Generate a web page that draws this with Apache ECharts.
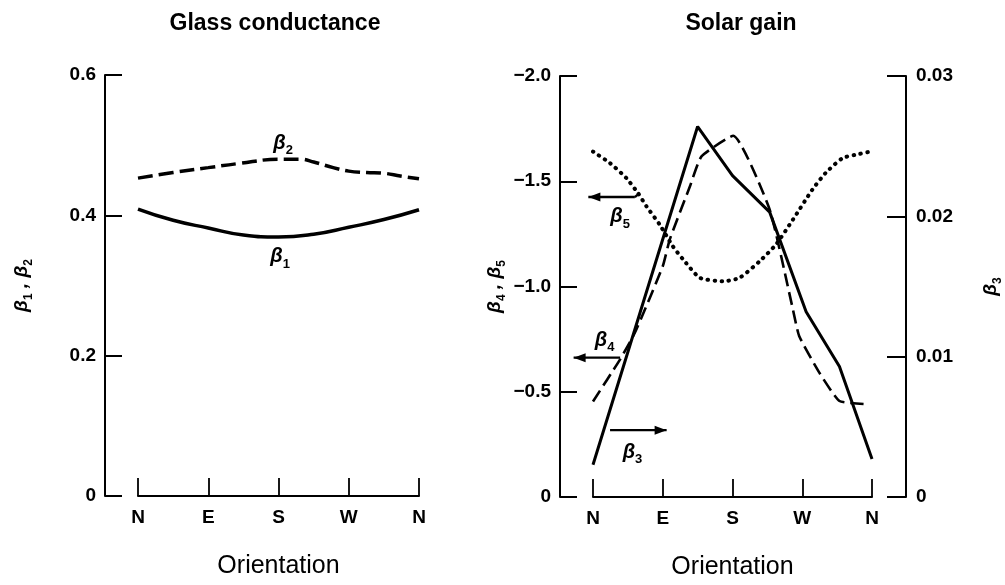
<!DOCTYPE html>
<html><head><meta charset="utf-8">
<script src="https://cdn.jsdelivr.net/npm/echarts@6/dist/echarts.min.js"></script>
<style>html,body{margin:0;padding:0;background:#fff}#c{width:1005px;height:585px}</style>
</head><body><div id="c"></div>
<script>
// ---- data (orientation in degrees: N=0, E=90, S=180, W=270, N=360) ----
const XTICKS = ['N', 'E', 'S', 'W', 'N'];
const GLASS_TICKS = ['0', '0.2', '0.4', '0.6'];
const SOLAR_LEFT_TICKS = ['\u22122.0', '\u22121.5', '\u22121.0', '\u22120.5', '0'];
const SOLAR_RIGHT_TICKS = ['0', '0.01', '0.02', '0.03'];

const B1_X = [0, 45, 90, 135, 180, 225, 270, 315, 360];
const B1   = [0.409, 0.393, 0.382, 0.372, 0.369, 0.373, 0.383, 0.394, 0.408];

const B2_X = [0, 45, 90, 130, 180, 208, 225, 250, 270, 293, 315, 336, 360];
const B2   = [0.453, 0.461, 0.468, 0.474, 0.480, 0.480, 0.476, 0.468, 0.463, 0.461, 0.460, 0.456, 0.452];

const B3_X = [0, 135, 180, 228, 275, 318, 360];
const B3   = [0.0023, 0.0264, 0.0229, 0.0203, 0.0132, 0.0093, 0.0027];

const B4_X = [0, 35, 54, 90, 99, 125, 140, 181, 228, 257, 266, 292, 318, 352];
const B4   = [-0.454, -0.654, -0.78, -1.096, -1.223, -1.475, -1.618, -1.716, -1.365, -0.907, -0.765, -0.591, -0.456, -0.441];

const B5_X = [0, 22, 43, 58, 69, 86, 103, 120, 138, 168, 189, 215, 236, 258, 283, 300, 322, 339, 358];
const B5   = [-1.641, -1.586, -1.515, -1.444, -1.381, -1.294, -1.191, -1.112, -1.041, -1.025, -1.041, -1.120, -1.199, -1.318, -1.460, -1.539, -1.610, -1.626, -1.641];

// annotation anchors in data space [orientation, value]
const LABEL_B1 = [182, 0.341];
const LABEL_B2 = [186, 0.503];
const LABEL_B5 = [35, -1.332];
const LABEL_B4 = [15, -0.744];
const LABEL_B3 = [51, -0.213];
const ARROW_B5 = [[54, -1.425], [-6, -1.425]];
const HOOK_B5  = [[54, -1.425], [60, -1.444]];
const ARROW_B4 = [[35, -0.662], [-25, -0.662]];
const ARROW_B3 = [[22, -0.3175], [95, -0.3175]];

// ---- chart ----
const FONT = "'Liberation Sans', Arial, Helvetica, sans-serif";
const INK = '#000';
const zip = (xs, ys) => xs.map((x, i) => [x, ys[i]]);

const betaRich = {
  b: { fontSize: 20, fontWeight: 'bold', fontStyle: 'italic', fontFamily: FONT, color: INK, lineHeight: 28, verticalAlign: 'middle' },
  s: { fontSize: 13, fontWeight: 'bold', fontFamily: FONT, color: INK, lineHeight: 28, verticalAlign: 'bottom' }
};
const nameRich = {
  b: { fontSize: 19, fontWeight: 'bold', fontStyle: 'italic', fontFamily: FONT, color: INK, lineHeight: 26, verticalAlign: 'middle' },
  s: { fontSize: 12, fontWeight: 'bold', fontFamily: FONT, color: INK, lineHeight: 26, verticalAlign: 'bottom' }
};

function betaLabel(coord, sub) {
  return {
    coord: coord, name: sub, symbol: 'circle', symbolSize: 1,
    itemStyle: { color: 'rgba(0,0,0,0)' },
    label: { show: true, position: 'inside', formatter: '{b|\u03b2}{s|' + sub + '}', rich: betaRich }
  };
}

const xAxisBase = (gi) => ({
  gridIndex: gi, type: 'value', min: 0, max: 360, interval: 90,
  axisLine: { show: true, onZero: false, lineStyle: { color: INK, width: 2 } },
  axisTick: { show: true, inside: true, length: 18, lineStyle: { color: INK, width: 1.8 } },
  axisLabel: { margin: 12, fontSize: 19, fontWeight: 'bold', color: INK, fontFamily: FONT,
               formatter: v => XTICKS[Math.round(v / 90)] },
  splitLine: { show: false },
  name: 'Orientation', nameLocation: 'middle', nameGap: 58,
  nameTextStyle: { fontSize: 25, color: INK, fontFamily: FONT }
});

const yAxisBase = {
  type: 'value',
  axisLine: { show: true, onZero: false, lineStyle: { color: INK, width: 2 } },
  axisTick: { show: true, inside: true, length: 17, lineStyle: { color: INK, width: 2 } },
  splitLine: { show: false },
  nameLocation: 'middle',
  nameTextStyle: { rich: nameRich }
};
const labelStyle = { fontSize: 19, fontWeight: 'bold', color: INK, fontFamily: FONT, margin: 9 };

const option = {
  backgroundColor: '#fff',
  animation: false,
  title: [
    { text: 'Glass conductance', left: 270, top: 7, textAlign: 'center',
      textStyle: { fontSize: 23, fontWeight: 'bold', color: INK, fontFamily: FONT } },
    { text: 'Solar gain', left: 736, top: 7, textAlign: 'center',
      textStyle: { fontSize: 23, fontWeight: 'bold', color: INK, fontFamily: FONT } }
  ],
  grid: [
    { left: 138, width: 281, top: 75, height: 421 },
    { left: 593, width: 280, top: 76, height: 422 }
  ],
  xAxis: [xAxisBase(0), xAxisBase(1)],
  yAxis: [
    Object.assign({}, yAxisBase, {
      gridIndex: 0, position: 'left', offset: 33, min: 0, max: 0.6, interval: 0.2,
      axisLabel: Object.assign({}, labelStyle, { formatter: v => GLASS_TICKS[Math.round(v / 0.2)] }),
      name: '{b|\u03b2}{s|1}{b| , \u03b2}{s|2}', nameGap: 70
    }),
    Object.assign({}, yAxisBase, {
      gridIndex: 1, position: 'left', offset: 33, min: -2, max: 0, interval: 0.5, inverse: true,
      axisLabel: Object.assign({}, labelStyle, { formatter: v => SOLAR_LEFT_TICKS[Math.round((v + 2) / 0.5)] }),
      name: '{b|\u03b2}{s|4}{b| , \u03b2}{s|5}', nameGap: 52
    }),
    Object.assign({}, yAxisBase, {
      gridIndex: 1, position: 'right', offset: 34, min: 0, max: 0.03, interval: 0.01,
      axisTick: { show: true, inside: true, length: 19, lineStyle: { color: INK, width: 2 } },
      axisLabel: Object.assign({}, labelStyle, { margin: 10, formatter: v => SOLAR_RIGHT_TICKS[Math.round(v / 0.01)] }),
      name: '{b|\u03b2}{s|3}', nameGap: 72
    })
  ],
  series: [
    { name: 'β1', type: 'line', xAxisIndex: 0, yAxisIndex: 0, data: zip(B1_X, B1),
      smooth: 0.5, symbol: 'none', clip: false,
      lineStyle: { color: INK, width: 3.5 },
      markPoint: { silent: true, animation: false, data: [betaLabel(LABEL_B1, '1')] } },
    { name: 'β2', type: 'line', xAxisIndex: 0, yAxisIndex: 0, data: zip(B2_X, B2),
      smooth: 0.4, symbol: 'none', clip: false,
      lineStyle: { color: INK, width: 3.5, type: [15, 6] },
      markPoint: { silent: true, animation: false, data: [betaLabel(LABEL_B2, '2')] } },
    { name: 'β3', type: 'line', xAxisIndex: 1, yAxisIndex: 2, data: zip(B3_X, B3),
      symbol: 'none', clip: false,
      lineStyle: { color: INK, width: 3 } },
    { name: 'β4', type: 'line', xAxisIndex: 1, yAxisIndex: 1, data: zip(B4_X, B4),
      smooth: 0.15, symbol: 'none', clip: false,
      lineStyle: { color: INK, width: 2.6, type: [13, 6] } },
    { name: 'β5', type: 'line', xAxisIndex: 1, yAxisIndex: 1, data: zip(B5_X, B5),
      smooth: 0.2, symbol: 'none', clip: false,
      lineStyle: { color: INK, width: 4, type: [0.5, 6.5], cap: 'round' },
      markPoint: { silent: true, animation: false,
        data: [betaLabel(LABEL_B5, '5'), betaLabel(LABEL_B4, '4'), betaLabel(LABEL_B3, '3')] } }
  ]
};

const chart = echarts.init(document.getElementById('c'), null, { renderer: 'canvas' });
chart.setOption(option);

// arrows: converted from data space of the solar-gain panel through its axes
function toPx(p) { return chart.convertToPixel({ xAxisIndex: 1, yAxisIndex: 1 }, p); }
function arrowGraphics(pts, withHead) {
  const a = toPx(pts[0]), b = toPx(pts[1]);
  const out = [{ type: 'line', silent: true, z: 10,
    shape: { x1: a[0], y1: a[1], x2: b[0], y2: b[1] },
    style: { stroke: INK, lineWidth: 2.4 } }];
  if (withHead) {
    const dx = b[0] - a[0], dy = b[1] - a[1], L = Math.hypot(dx, dy);
    const ux = dx / L, uy = dy / L, hl = 12, hw = 4.5;
    const bx = b[0] - ux * hl, by = b[1] - uy * hl;
    out.push({ type: 'polygon', silent: true, z: 10,
      shape: { points: [[b[0], b[1]], [bx - uy * hw, by + ux * hw], [bx + uy * hw, by - ux * hw]] },
      style: { fill: INK } });
  }
  return out;
}
chart.setOption({
  graphic: [].concat(
    arrowGraphics(ARROW_B5, true),
    arrowGraphics(HOOK_B5, false),
    arrowGraphics(ARROW_B4, true),
    arrowGraphics(ARROW_B3, true)
  )
});
</script>
</body></html>
